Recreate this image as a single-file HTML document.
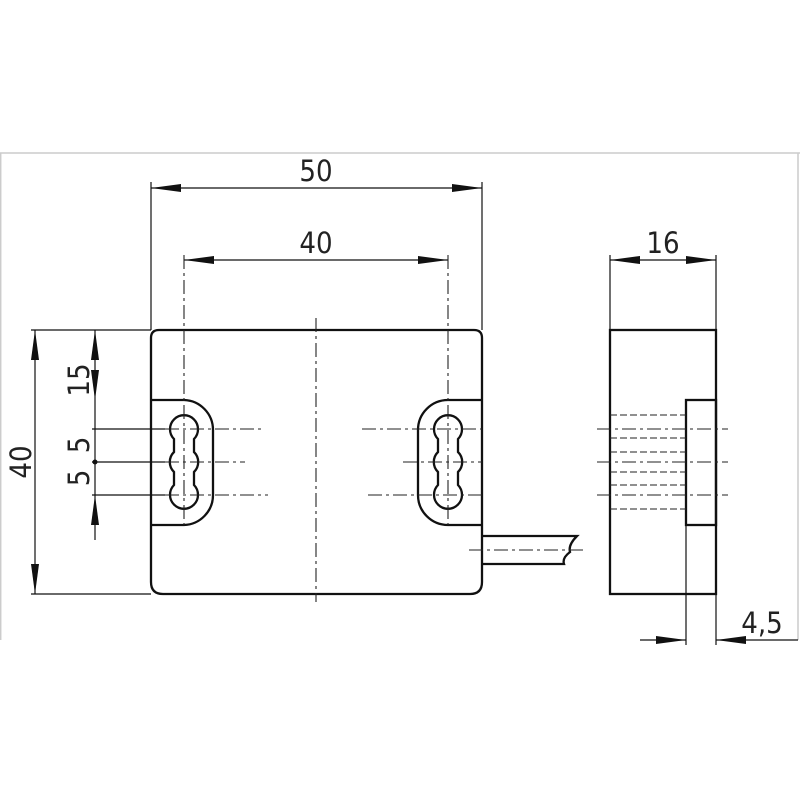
<!DOCTYPE html>
<html><head><style>body{margin:0;background:#fff}svg{display:block}text{font-family:"DejaVu Sans Condensed","Liberation Sans Narrow","Liberation Sans",sans-serif;font-size:29px;fill:#222}</style></head>
<body>
<svg width="800" height="800" viewBox="0 0 800 800" xmlns="http://www.w3.org/2000/svg">
<defs>
<marker id="a" viewBox="0 0 30 10" refX="30" refY="5" markerWidth="30" markerHeight="10" markerUnits="userSpaceOnUse" orient="auto-start-reverse"><path d="M0,1 L30,5 L0,9 Z" fill="#111"/></marker>
</defs>
<g stroke="#ccc" stroke-width="1.5" fill="none">
<line x1="0" y1="153" x2="800" y2="153"/>
<line x1="798" y1="153" x2="798" y2="640"/>
<line x1="0.7" y1="153" x2="0.7" y2="640"/>
</g>
<g stroke="#111" stroke-width="1.2" fill="none">
<!-- extension lines -->
<line x1="151" y1="182" x2="151" y2="330"/>
<line x1="482" y1="182" x2="482" y2="330"/>
<line x1="31" y1="330" x2="151" y2="330"/>
<line x1="31" y1="594" x2="151" y2="594"/>
<line x1="610" y1="255" x2="610" y2="330"/>
<line x1="716" y1="255" x2="716" y2="330"/>
<line x1="686" y1="525" x2="686" y2="645"/>
<line x1="716" y1="594" x2="716" y2="645"/>
<line x1="92" y1="429" x2="165" y2="429"/>
<line x1="92" y1="462" x2="165" y2="462"/>
<line x1="92" y1="495" x2="165" y2="495"/>
<!-- dimension lines -->
<line x1="151" y1="188" x2="482" y2="188" marker-start="url(#a)" marker-end="url(#a)"/>
<line x1="184" y1="260" x2="448" y2="260" marker-start="url(#a)" marker-end="url(#a)"/>
<line x1="610" y1="260" x2="716" y2="260" marker-start="url(#a)" marker-end="url(#a)"/>
<line x1="35" y1="330" x2="35" y2="594" marker-start="url(#a)" marker-end="url(#a)"/>
<line x1="95" y1="330" x2="95" y2="400" marker-start="url(#a)" marker-end="url(#a)"/>
<line x1="95" y1="400" x2="95" y2="495"/>
<line x1="95" y1="540" x2="95" y2="495" marker-end="url(#a)"/>
<line x1="640" y1="640" x2="686" y2="640" marker-end="url(#a)"/>
<line x1="798" y1="640" x2="716" y2="640" marker-end="url(#a)"/>
</g>
<circle cx="95" cy="462" r="2.5" fill="#111"/>
<!-- main body -->
<g stroke="#111" stroke-width="2.3" fill="none">
<path d="M151,338 Q151,330 159,330 L474,330 Q482,330 482,338 L482,582 Q482,594 470,594 L163,594 Q151,594 151,582 Z"/>
<path d="M151,400 L184,400 A30,30 0 0 1 213,430 L213,495 A30,30 0 0 1 184,525 L151,525"/>
<path d="M482,400 L448,400 A30,30 0 0 0 418,430 L418,495 A30,30 0 0 0 448,525 L482,525"/>
<path d="M174,439 A14,14 0 1 1 194,439 L194,452 A14,14 0 0 1 194,472 L194,485 A14,14 0 1 1 174,485 L174,472 A14,14 0 0 1 174,452 Z"/>
<path d="M438,439 A14,14 0 1 1 458,439 L458,452 A14,14 0 0 1 458,472 L458,485 A14,14 0 1 1 438,485 L438,472 A14,14 0 0 1 438,452 Z"/>
<path d="M482,536 L577,536 Q568,545 570,552 Q562,558 564,564 L482,564"/>
<!-- side view -->
<rect x="610" y="330" width="106" height="264"/>
<rect x="686" y="400" width="30" height="125"/>
</g>
<!-- center lines -->
<g stroke="#222" stroke-width="1.1" fill="none" stroke-dasharray="14,4,3,4">
<line x1="316" y1="318" x2="316" y2="602"/>
<line x1="184" y1="255" x2="184" y2="525"/>
<line x1="448" y1="255" x2="448" y2="525"/>
<line x1="165" y1="429" x2="265" y2="429"/>
<line x1="165" y1="462" x2="245" y2="462"/>
<line x1="165" y1="495" x2="268" y2="495"/>
<line x1="362" y1="429" x2="482" y2="429"/>
<line x1="403" y1="462" x2="482" y2="462"/>
<line x1="368" y1="495" x2="482" y2="495"/>
<line x1="469" y1="550" x2="586" y2="550"/>
<line x1="597" y1="429" x2="728" y2="429"/>
<line x1="597" y1="462" x2="728" y2="462"/>
<line x1="597" y1="495" x2="728" y2="495"/>
</g>
<g stroke="#222" stroke-width="1.1" stroke-dasharray="7,3">
<line x1="610" y1="415" x2="686" y2="415"/>
<line x1="610" y1="438" x2="686" y2="438"/>
<line x1="610" y1="452" x2="686" y2="452"/>
<line x1="610" y1="472" x2="686" y2="472"/>
<line x1="610" y1="485" x2="686" y2="485"/>
<line x1="610" y1="509" x2="686" y2="509"/>
</g>
<text x="316" y="181" text-anchor="middle">50</text>
<text x="316" y="253" text-anchor="middle">40</text>
<text x="663" y="253" text-anchor="middle">16</text>
<text x="762" y="633" text-anchor="middle">4,5</text>
<text transform="translate(31,462) rotate(-90)" text-anchor="middle">40</text>
<text transform="translate(89,380) rotate(-90)" text-anchor="middle">15</text>
<text transform="translate(89,445) rotate(-90)" text-anchor="middle">5</text>
<text transform="translate(89,478) rotate(-90)" text-anchor="middle">5</text>
</svg>
</body></html>
